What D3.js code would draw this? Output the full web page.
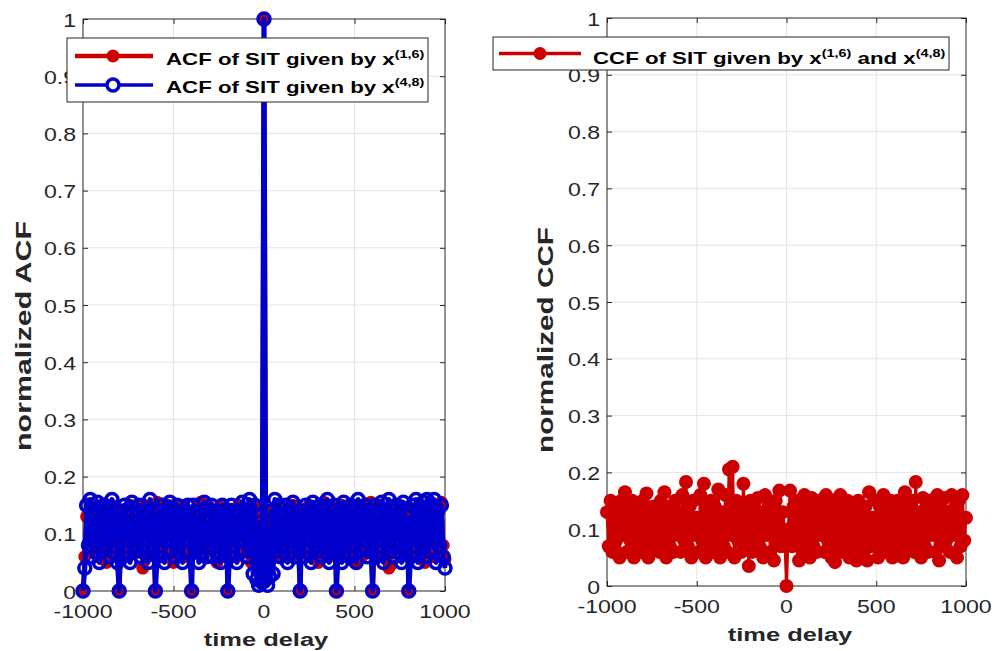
<!DOCTYPE html>
<html>
<head>
<meta charset="utf-8">
<script src="https://cdn.jsdelivr.net/npm/d3@7"></script>
<style>
  body { margin: 0; background: #fff; }
  svg { display: block; font-family: "Liberation Sans", Arial, sans-serif; }
</style>
</head>
<body>
<div id="chart"></div>
<script>
// time delays, -1000..1000 in steps of 10
const lags = d3.range(-1000, 1001, 10);

// ACF of SIT given by x(1,6)
const acf16 = [0,
  0.06, 0.13, 0.08, 0.15, 0.07, 0.14, 0.09, 0.12, 0.06, 0.15, 0.08, 0.13, 0.05, 0.14, 0.07, 0.15, 0.09, 0.12, 0.06,
  0,
  0.07, 0.14, 0.09, 0.13, 0.06, 0.15, 0.08, 0.12, 0.07, 0.14, 0.09, 0.13, 0.04, 0.15, 0.06, 0.12, 0.08, 0.14, 0.07,
  0,
  0.155, 0.07, 0.13, 0.09, 0.14, 0.06, 0.15, 0.08, 0.12, 0.05, 0.14, 0.07, 0.13, 0.09, 0.15, 0.06, 0.12, 0.08, 0.14,
  0,
  0.13, 0.07, 0.14, 0.09, 0.155, 0.06, 0.12, 0.08, 0.15, 0.07, 0.13, 0.09, 0.14, 0.05, 0.12, 0.08, 0.15, 0.06, 0.13,
  0,
  0.07, 0.14, 0.08, 0.12, 0.06, 0.15, 0.09, 0.13, 0.07, 0.14, 0.08, 0.12, 0.05, 0.15, 0.07, 0.13, 0.06, 0.11, 0.05,
  1,
  0.06, 0.12, 0.05, 0.14, 0.08, 0.13, 0.06, 0.15, 0.09, 0.12, 0.07, 0.14, 0.08, 0.13, 0.06, 0.15, 0.09, 0.12, 0.07,
  0,
  0.14, 0.07, 0.12, 0.09, 0.15, 0.06, 0.13, 0.08, 0.14, 0.05, 0.12, 0.07, 0.155, 0.09, 0.13, 0.06, 0.15, 0.08, 0.12,
  0,
  0.13, 0.08, 0.15, 0.06, 0.12, 0.09, 0.14, 0.07, 0.13, 0.05, 0.15, 0.08, 0.12, 0.06, 0.14, 0.09, 0.13, 0.07, 0.155,
  0,
  0.07, 0.13, 0.09, 0.15, 0.06, 0.12, 0.08, 0.14, 0.04, 0.045, 0.14, 0.07, 0.13, 0.09, 0.15, 0.06, 0.12, 0.08, 0.14,
  0,
  0.08, 0.14, 0.06, 0.13, 0.09, 0.15, 0.07, 0.12, 0.05, 0.14, 0.08, 0.15, 0.06, 0.13, 0.09, 0.12, 0.07, 0.155, 0.08, 0.055];

// ACF of SIT given by x(4,8)
const acf48 = [0,
  0.04, 0.15, 0.08, 0.16, 0.06, 0.13, 0.09, 0.155, 0.05, 0.14, 0.07, 0.15, 0.08, 0.13, 0.06, 0.16, 0.09, 0.14, 0.05,
  0,
  0.14, 0.06, 0.15, 0.09, 0.13, 0.05, 0.155, 0.08, 0.12, 0.07, 0.15, 0.06, 0.14, 0.09, 0.13, 0.05, 0.16, 0.08, 0.14,
  0,
  0.06, 0.14, 0.08, 0.15, 0.05, 0.13, 0.09, 0.155, 0.07, 0.14, 0.06, 0.15, 0.08, 0.13, 0.05, 0.14, 0.09, 0.15, 0.07,
  0,
  0.15, 0.07, 0.13, 0.05, 0.14, 0.09, 0.155, 0.06, 0.12, 0.08, 0.15, 0.06, 0.14, 0.09, 0.13, 0.05, 0.15, 0.07, 0.14,
  0,
  0.06, 0.15, 0.08, 0.13, 0.05, 0.14, 0.09, 0.155, 0.07, 0.14, 0.06, 0.16, 0.08, 0.03, 0.15, 0.02, 0.01, 0.12, 0.015,
  1,
  0.02, 0.01, 0.025, 0.14, 0.03, 0.16, 0.07, 0.15, 0.06, 0.13, 0.08, 0.15, 0.05, 0.14, 0.09, 0.155, 0.06, 0.13, 0.08,
  0,
  0.14, 0.06, 0.15, 0.09, 0.13, 0.05, 0.155, 0.08, 0.14, 0.07, 0.15, 0.06, 0.13, 0.09, 0.16, 0.05, 0.14, 0.08, 0.15,
  0,
  0.07, 0.14, 0.05, 0.155, 0.09, 0.13, 0.06, 0.15, 0.08, 0.14, 0.05, 0.16, 0.07, 0.13, 0.09, 0.15, 0.06, 0.14, 0.08,
  0,
  0.15, 0.06, 0.13, 0.09, 0.155, 0.05, 0.14, 0.08, 0.16, 0.07, 0.13, 0.06, 0.15, 0.09, 0.14, 0.05, 0.155, 0.08, 0.13,
  0,
  0.06, 0.15, 0.09, 0.16, 0.05, 0.14, 0.08, 0.155, 0.06, 0.16, 0.07, 0.15, 0.09, 0.16, 0.05, 0.14, 0.08, 0.15, 0.06, 0.04];

// CCF of SIT given by x(1,6) and x(4,8)
const ccf = [
  0.13, 0.07, 0.15, 0.06, 0.14, 0.08, 0.12, 0.05, 0.15, 0.09, 0.165, 0.06, 0.13, 0.08, 0.15, 0.05, 0.14, 0.07, 0.12, 0.06,
  0.15, 0.08, 0.163, 0.05, 0.13, 0.07, 0.14, 0.09, 0.12, 0.06, 0.15, 0.08, 0.165, 0.05, 0.13, 0.07, 0.14, 0.06, 0.15, 0.09,
  0.13, 0.06, 0.16, 0.08, 0.183, 0.07, 0.14, 0.05, 0.15, 0.09, 0.12, 0.06, 0.16, 0.08, 0.18, 0.05, 0.14, 0.07, 0.15, 0.06,
  0.14, 0.08, 0.17, 0.05, 0.13, 0.07, 0.16, 0.06, 0.205, 0.09, 0.21, 0.05, 0.15, 0.08, 0.14, 0.06, 0.18, 0.07, 0.13, 0.035,
  0.15, 0.06, 0.14, 0.08, 0.155, 0.07, 0.13, 0.05, 0.16, 0.09, 0.14, 0.06, 0.12, 0.045, 0.15, 0.08, 0.168, 0.07, 0.13, 0.09,
  0, 0.10, 0.168, 0.07, 0.14, 0.08, 0.15, 0.045, 0.13, 0.06, 0.16, 0.08, 0.14, 0.05, 0.155, 0.07, 0.13, 0.06, 0.15, 0.09,
  0.14, 0.06, 0.16, 0.08, 0.13, 0.05, 0.15, 0.042, 0.14, 0.07, 0.16, 0.06, 0.13, 0.08, 0.15, 0.05, 0.14, 0.07, 0.12, 0.045,
  0.15, 0.08, 0.13, 0.06, 0.14, 0.045, 0.165, 0.07, 0.12, 0.09, 0.15, 0.05, 0.14, 0.08, 0.16, 0.06, 0.13, 0.07, 0.15, 0.05,
  0.14, 0.08, 0.15, 0.06, 0.13, 0.05, 0.165, 0.07, 0.14, 0.09, 0.15, 0.06, 0.183, 0.08, 0.13, 0.05, 0.155, 0.07, 0.14, 0.06,
  0.15, 0.09, 0.13, 0.06, 0.16, 0.045, 0.14, 0.07, 0.155, 0.08, 0.13, 0.06, 0.16, 0.09, 0.14, 0.05, 0.15, 0.07, 0.16, 0.08, 0.12];

const xTicks = [-1000, -500, 0, 500, 1000];
const yTicks = [0, 0.1, 0.2, 0.3, 0.4, 0.5, 0.6, 0.7, 0.8, 0.9, 1];
const yTickLabels = ["0", "0.1", "0.2", "0.3", "0.4", "0.5", "0.6", "0.7", "0.8", "0.9", "1"];

const red = "#cc0000", blue = "#0000cc", ink = "#262626";
const SX = 1.32;  // the picture is stretched sideways, so text is too

const svg = d3.select("#chart")
    .append("svg")
    .attr("width", 995)
    .attr("height", 651)
    .style("background-color", "#fff");

function drawAxes(x, y) {
    const [x0, x1] = x.range();
    const [y0, y1] = y.range();

    // grid
    svg.append("g").selectAll("line")
        .data(xTicks.slice(1, -1))
        .join("line")
        .attr("x1", d => x(d)).attr("x2", d => x(d))
        .attr("y1", y0).attr("y2", y1)
        .attr("stroke", "#e4e4e4");
    svg.append("g").selectAll("line")
        .data(yTicks.slice(1, -1))
        .join("line")
        .attr("x1", x0).attr("x2", x1)
        .attr("y1", d => y(d)).attr("y2", d => y(d))
        .attr("stroke", "#e4e4e4");

    // box
    svg.append("rect")
        .attr("x", x0).attr("y", y1)
        .attr("width", x1 - x0).attr("height", y0 - y1)
        .attr("fill", "none")
        .attr("stroke", ink);

    // ticks pointing inward on all four sides
    const sides = [
        [d3.axisBottom(x).tickValues(xTicks), `translate(0,${y0})`],
        [d3.axisTop(x).tickValues(xTicks), `translate(0,${y1})`],
        [d3.axisLeft(y).tickValues(yTicks), `translate(${x0},0)`],
        [d3.axisRight(y).tickValues(yTicks), `translate(${x1},0)`]
    ];
    sides.forEach(([axis, tr]) => {
        const g = svg.append("g")
            .attr("transform", tr)
            .call(axis.tickSize(-5).tickFormat(() => ""));
        g.select(".domain").remove();
        g.selectAll("line").attr("stroke", ink);
    });

    // tick labels
    svg.append("g").selectAll("text")
        .data(xTicks)
        .join("text")
        .attr("transform", d => `translate(${x(d)},${y0 + 27}) scale(${SX},1)`)
        .attr("text-anchor", "middle")
        .style("font-size", "17.5px")
        .style("fill", ink)
        .text(d => String(d));
    svg.append("g").selectAll("text")
        .data(yTicks)
        .join("text")
        .attr("transform", d => `translate(${x0 - 7},${y(d) + 7.5}) scale(${SX},1)`)
        .attr("text-anchor", "end")
        .style("font-size", "17.5px")
        .style("fill", ink)
        .text((d, i) => yTickLabels[i]);
}

function axisTitle(txt, tx, ty, rotate, size, stretch) {
    svg.append("text")
        .attr("transform", `translate(${tx},${ty})` + (rotate ? " rotate(-90)" : "") + ` scale(${stretch},1)`)
        .attr("text-anchor", "middle")
        .style("font-size", size + "px")
        .style("font-weight", "bold")
        .style("fill", ink)
        .text(txt);
}

// ---------- left panel: ACF ----------
const xL = d3.scaleLinear().domain([-1000, 1000]).range([83, 445]);
const yL = d3.scaleLinear().domain([0, 1]).range([591, 19]);
drawAxes(xL, yL);

const lineL = d3.line().x((d, i) => xL(lags[i])).y(d => yL(d));

// red series first, blue on top of it
svg.append("path")
    .datum(acf16)
    .attr("d", lineL)
    .attr("fill", "none")
    .attr("stroke", red)
    .attr("stroke-width", 4.5)
    .attr("stroke-linejoin", "round");

svg.append("g").selectAll("circle")
    .data(acf16)
    .join("circle")
    .attr("cx", (d, i) => xL(lags[i]))
    .attr("cy", d => yL(d))
    .attr("r", 6.5)
    .attr("fill", red);

svg.append("path")
    .datum(acf48)
    .attr("d", lineL)
    .attr("fill", "none")
    .attr("stroke", blue)
    .attr("stroke-width", 5)
    .attr("stroke-linejoin", "round");

svg.append("g").selectAll("circle")
    .data(acf48)
    .join("circle")
    .attr("cx", (d, i) => xL(lags[i]))
    .attr("cy", d => yL(d))
    .attr("r", 6)
    .attr("fill", "none")
    .attr("stroke", blue)
    .attr("stroke-width", 3.5);

axisTitle("normalized ACF", 31, 336, true, 22, 1.38);
axisTitle("time delay", 266, 645.5, false, 19, 1.34);

// legend, left
svg.append("rect")
    .attr("x", 67).attr("y", 38)
    .attr("width", 361).attr("height", 64)
    .attr("fill", "#fff")
    .attr("stroke", ink);

svg.append("line").attr("x1", 75).attr("x2", 153).attr("y1", 56).attr("y2", 56)
    .attr("stroke", red).attr("stroke-width", 4.5);
svg.append("circle").attr("cx", 113).attr("cy", 56).attr("r", 6.5).attr("fill", red);
svg.append("line").attr("x1", 75).attr("x2", 153).attr("y1", 85).attr("y2", 85)
    .attr("stroke", blue).attr("stroke-width", 3.5);
svg.append("circle").attr("cx", 113).attr("cy", 85).attr("r", 6)
    .attr("fill", "#fff").attr("stroke", blue).attr("stroke-width", 3.5);

[["(1,6)", 64.5], ["(4,8)", 93]].forEach(([sup, by]) => {
    const t = svg.append("text")
        .attr("transform", `translate(166,${by}) scale(1.31,1)`)
        .style("font-size", "17px")
        .style("font-weight", "bold")
        .style("fill", "#000");
    t.append("tspan").text("ACF of SIT given by x");
    t.append("tspan").attr("dy", -7).style("font-size", "11px").text(sup);
});

// ---------- right panel: CCF ----------
const xR = d3.scaleLinear().domain([-1000, 1000]).range([607, 966]);
const yR = d3.scaleLinear().domain([0, 1]).range([586, 18]);
drawAxes(xR, yR);

svg.append("path")
    .datum(ccf)
    .attr("d", d3.line().x((d, i) => xR(lags[i])).y(d => yR(d)))
    .attr("fill", "none")
    .attr("stroke", red)
    .attr("stroke-width", 3)
    .attr("stroke-linejoin", "round");

svg.append("g").selectAll("circle")
    .data(ccf)
    .join("circle")
    .attr("cx", (d, i) => xR(lags[i]))
    .attr("cy", d => yR(d))
    .attr("r", 7)
    .attr("fill", red);

axisTitle("normalized CCF", 553, 340, true, 22, 1.35);
axisTitle("time delay", 790, 641, false, 19, 1.34);

// legend, right
svg.append("rect")
    .attr("x", 493).attr("y", 37)
    .attr("width", 456).attr("height", 33)
    .attr("fill", "#fff")
    .attr("stroke", ink);
svg.append("line").attr("x1", 499).attr("x2", 581).attr("y1", 53.5).attr("y2", 53.5)
    .attr("stroke", red).attr("stroke-width", 3.5);
svg.append("circle").attr("cx", 540).attr("cy", 53.5).attr("r", 6.5).attr("fill", red);

const tR = svg.append("text")
    .attr("transform", "translate(593,64) scale(1.31,1)")
    .style("font-size", "17px")
    .style("font-weight", "bold")
    .style("fill", "#000")
    .style("white-space", "pre");
tR.append("tspan").text("CCF of SIT given by x");
tR.append("tspan").attr("dy", -7).style("font-size", "11px").text("(1,6)");
tR.append("tspan").attr("dy", 7).text(" and x");
tR.append("tspan").attr("dy", -7).style("font-size", "11px").text("(4,8)");
</script>
</body>
</html>
